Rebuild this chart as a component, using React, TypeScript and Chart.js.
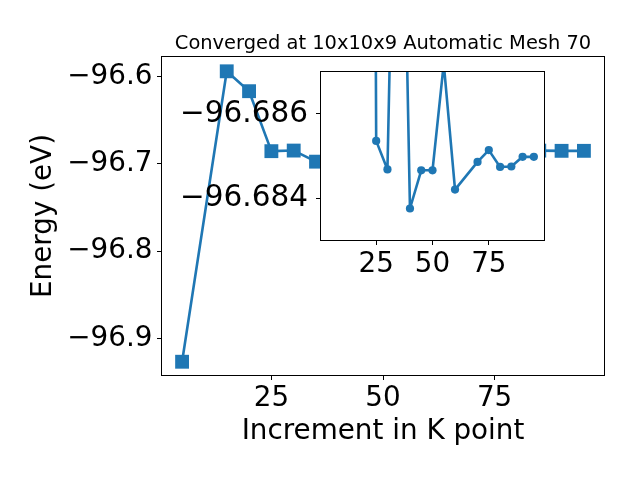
import React, { useEffect, useRef } from "react";
import { Chart, registerables } from "chart.js";

Chart.register(...registerables);

// ---- data ----
const kPoints = [5, 15, 20, 25, 30, 35, 40, 45, 50, 55, 60, 70, 75, 80, 85, 90, 95];
const energies = [
  -96.9268, -96.5938, -96.6166, -96.68536, -96.68468, -96.6974, -96.68375, -96.68466,
  -96.68466, -96.6872, -96.6842, -96.68486, -96.68514, -96.68474, -96.68475, -96.68498,
  -96.68498,
];
const insetK = [5, 25, 30, 35, 40, 45, 50, 55, 60, 70, 75, 80, 85, 90, 95];
const insetEnergies = [
  -96.9268, -96.68536, -96.68468, -96.6974, -96.68375, -96.68466, -96.68466, -96.6872,
  -96.6842, -96.68486, -96.68514, -96.68474, -96.68475, -96.68498, -96.68498,
];
const mainXTicks = [25, 50, 75];
const mainYTicks = [-96.9, -96.8, -96.7, -96.6];
const insetXTicks = [25, 50, 75];
const insetYTicks = [-96.686, -96.684];
const titleText = "Converged at 10x10x9 Automatic Mesh 70";
const xLabel = "Increment in K point";
const yLabel = "Energy (eV)";

const BLUE = "#1f77b4";
const FONT = "DejaVu Sans";
const BIG = 27.8;

const fmt = (v: number, d: number) => v.toFixed(d).replace("-", "\u2212");

const framePlugin = {
  id: "frame",
  beforeDraw(chart: any, _a: any, opts: any) {
    if (opts && opts.fillWhite) {
      const { left, top, right, bottom } = chart.chartArea;
      const ctx = chart.ctx;
      ctx.save();
      ctx.fillStyle = "#ffffff";
      ctx.fillRect(left, top, right - left, bottom - top);
      ctx.restore();
    }
  },
  afterDatasetsDraw(chart: any) {
    const { left, top, right, bottom } = chart.chartArea;
    const ctx = chart.ctx;
    ctx.save();
    ctx.strokeStyle = "#000";
    ctx.lineWidth = 1;
    ctx.strokeRect(left - 0.5, top - 0.5, right - left + 1, bottom - top + 1);
    ctx.restore();
  },
};

const titlePlugin = {
  id: "mplTitle",
  afterDraw(chart: any, _a: any, opts: any) {
    if (!opts || !opts.text) return;
    const { left, right, top } = chart.chartArea;
    const ctx = chart.ctx;
    ctx.save();
    ctx.font = `19.44px "${FONT}"`;
    ctx.fillStyle = "#000";
    ctx.textAlign = "center";
    ctx.textBaseline = "alphabetic";
    ctx.fillText(opts.text, (left + right) / 2, top - 8.5);
    ctx.restore();
  },
};

function axisCommon() {
  return {
    grid: {
      display: true,
      drawOnChartArea: false,
      drawTicks: true,
      tickLength: 5,
      color: "#000",
      lineWidth: 1,
    },
    border: { display: false },
  };
}

export default function App() {
  const mainRef = useRef<HTMLCanvasElement>(null);
  const insetRef = useRef<HTMLCanvasElement>(null);

  useEffect(() => {
    const main = new Chart(mainRef.current!, {
      type: "scatter",
      data: {
        datasets: [
          {
            data: kPoints.map((k, i) => ({ x: k, y: energies[i] })),
            showLine: true,
            borderColor: BLUE,
            backgroundColor: BLUE,
            borderWidth: 2.6,
            borderJoinStyle: "round",
            pointStyle: "rect",
            pointRadius: 9.8,
            pointBorderWidth: 0,
            pointBackgroundColor: BLUE,
          },
        ],
      },
      options: {
        responsive: false,
        animation: false,
        events: [],
        layout: { padding: { left: 0, top: 57, right: 36, bottom: 0 } },
        plugins: {
          legend: { display: false },
          tooltip: { enabled: false },
          frame: {},
          mplTitle: { text: titleText },
        } as any,
        scales: {
          x: {
            type: "linear",
            min: 0.5,
            max: 99.5,
            afterBuildTicks: (s: any) => {
              s.ticks = mainXTicks.map((v) => ({ value: v }));
            },
            afterFit: (s: any) => {
              s.height = 105;
            },
            ticks: {
              color: "#000",
              font: { family: FONT, size: BIG },
              padding: 2,
              maxRotation: 0,
              autoSkip: false,
              callback: (v: any) => fmt(Number(v), 0),
            },
            title: {
              display: true,
              text: xLabel,
              color: "#000",
              font: { family: FONT, size: BIG },
              padding: { top: 0, bottom: 31.2 },
            },
            ...axisCommon(),
          },
          y: {
            type: "linear",
            min: -96.942,
            max: -96.5774,
            afterBuildTicks: (s: any) => {
              s.ticks = mainYTicks.map((v) => ({ value: v }));
            },
            afterFit: (s: any) => {
              s.width = 162;
            },
            ticks: {
              color: "#000",
              font: { family: FONT, size: BIG },
              padding: 4.5,
              autoSkip: false,
              callback: (v: any) => fmt(Number(v), 1),
            },
            title: {
              display: true,
              text: yLabel,
              color: "#000",
              font: { family: FONT, size: BIG },
              padding: { top: 27, bottom: 0 },
            },
            ...axisCommon(),
          },
        },
      } as any,
      plugins: [framePlugin, titlePlugin],
    });

    const inset = new Chart(insetRef.current!, {
      type: "scatter",
      data: {
        datasets: [
          {
            data: insetK.map((k, i) => ({ x: k, y: insetEnergies[i] })),
            showLine: true,
            borderColor: BLUE,
            backgroundColor: BLUE,
            borderWidth: 2.6,
            borderJoinStyle: "round",
            pointStyle: "circle",
            pointRadius: 4.1,
            pointBorderWidth: 0,
            pointBackgroundColor: BLUE,
          },
        ],
      },
      options: {
        responsive: false,
        animation: false,
        events: [],
        layout: { padding: { left: 0, top: 72, right: 96, bottom: 0 } },
        plugins: {
          legend: { display: false },
          tooltip: { enabled: false },
          frame: { fillWhite: true },
        } as any,
        scales: {
          x: {
            type: "linear",
            min: 0.5,
            max: 99.5,
            afterBuildTicks: (s: any) => {
              s.ticks = insetXTicks.map((v) => ({ value: v }));
            },
            afterFit: (s: any) => {
              s.height = 240;
            },
            ticks: {
              color: "#000",
              font: { family: FONT, size: BIG },
              padding: 3,
              maxRotation: 0,
              autoSkip: false,
              callback: (v: any) => fmt(Number(v), 0),
            },
            ...axisCommon(),
          },
          y: {
            type: "linear",
            reverse: true,
            min: -96.687,
            max: -96.683,
            afterBuildTicks: (s: any) => {
              s.ticks = insetYTicks.map((v) => ({ value: v }));
            },
            afterFit: (s: any) => {
              s.width = 321;
            },
            ticks: {
              color: "#000",
              font: { family: FONT, size: 29.5 },
              padding: 8,
              autoSkip: false,
              callback: (v: any) => fmt(Number(v), 3),
            },
            ...axisCommon(),
          },
        },
      } as any,
      plugins: [framePlugin],
    });

    return () => {
      main.destroy();
      inset.destroy();
    };
  }, []);

  return (
    <div
      style={{
        position: "absolute",
        left: 0,
        top: 0,
        width: 640,
        height: 480,
        background: "#fff",
      }}
    >
      <canvas
        ref={mainRef}
        width={640}
        height={480}
        style={{ position: "absolute", left: 0, top: 0, width: 640, height: 480 }}
      />
      <canvas
        ref={insetRef}
        width={640}
        height={480}
        style={{ position: "absolute", left: 0, top: 0, width: 640, height: 480 }}
      />
    </div>
  );
}
